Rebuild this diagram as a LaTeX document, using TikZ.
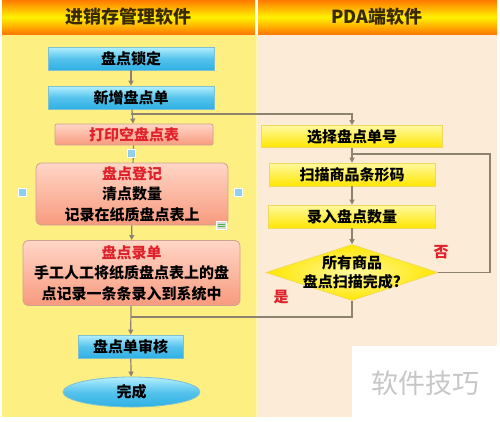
\documentclass[tikz,border=0pt]{standalone}
\usepackage{fontspec}
\newfontfamily\cjk{Noto Sans CJK SC}
\usetikzlibrary{shapes.geometric,arrows.meta}
\definecolor{leftbg}{HTML}{FDEF82}
\definecolor{rightbg}{HTML}{FCEBD6}
\definecolor{hdrorange}{HTML}{FF7A00}
\definecolor{hdryellow}{HTML}{FFF200}
\definecolor{linec}{HTML}{8E8270}
\definecolor{bluetop}{HTML}{B4F0FF}
\definecolor{bluebot}{HTML}{2EB0E4}
\definecolor{blueedge}{HTML}{7FC0D0}
\definecolor{pinktop}{HTML}{FFD6C6}
\definecolor{pinkbot}{HTML}{F89A7E}
\definecolor{pinkedge}{HTML}{D0A090}
\definecolor{ylwtop}{HTML}{FFF9A0}
\definecolor{ylwbot}{HTML}{FFE600}
\definecolor{ylwedge}{HTML}{EED860}
\definecolor{redtxt}{HTML}{E0202A}
\definecolor{hdrtxt}{HTML}{3A2800}
\definecolor{handlec}{HTML}{8FD0EE}
\begin{document}
\begin{tikzpicture}[x=1pt,y=-1pt,
  txt/.style={font=\cjk\bfseries\fontsize{15}{20.5}\selectfont},
  bluebox/.style={txt, draw=blueedge, line width=0.8pt, top color=bluetop, bottom color=bluebot, middle color=bluebot!70!bluetop, minimum height=23pt, inner sep=0pt},
  pinkbox/.style={txt, draw=pinkedge, line width=0.8pt, top color=pinktop, bottom color=pinkbot, rounded corners=5pt, inner sep=0pt, align=center},
  ylwbox/.style={txt, draw=ylwedge, line width=0.6pt, top color=ylwtop, bottom color=ylwbot, minimum height=22pt, inner sep=0pt},
  conn/.style={draw=linec, line width=1.2pt, -{Triangle[length=5pt,width=5pt]}},
  plain/.style={draw=linec, line width=1.2pt},
  lbl/.style={txt, text=redtxt},
  hdr/.style={font=\cjk\bfseries\fontsize{18}{20}\selectfont, text=hdrtxt},
  handle/.style={fill=handlec, draw=white, line width=0.8pt}
]
\useasboundingbox (0,0) rectangle (500,421);
\fill[white] (0,0) rectangle (500,421);
% columns
\fill[leftbg] (2,35) rectangle (256,417);
\fill[rightbg] (258,35) rectangle (497,417);
\fill[leftbg!60!white] (256,35) rectangle (258,417);
\shade[top color=hdrorange, bottom color=hdrorange, middle color=hdryellow] (2,0) rectangle (255,34);
\shade[top color=hdrorange, bottom color=hdrorange, middle color=hdryellow] (258,0) rectangle (497,34);
\node[hdr] (h1) at (128,17) {进销存管理软件};
\node[hdr] (h2) at (377,17) {PDA端软件};

% left column nodes
\node[bluebox, minimum width=166pt] (n1) at (131,58.5) {盘点锁定};
\node[bluebox, minimum width=166pt] (n2) at (131,97.5) {新增盘点单};
\node[pinkbox, minimum width=158pt, minimum height=21pt, rounded corners=2pt, text=redtxt] (n3) at (134,134.5) {打印空盘点表};
\node[pinkbox, minimum width=192pt, minimum height=62pt] (n4) at (132,194) {\textcolor{redtxt}{盘点登记}\\清点数量\\记录在纸质盘点表上};
\node[pinkbox, minimum width=217pt, minimum height=65pt] (n5) at (131.5,273) {\textcolor{redtxt}{盘点录单}\\手工人工将纸质盘点表上的盘\\点记录一条条录入到系统中};
\node[bluebox, minimum width=105pt] (n6) at (130.5,346.5) {盘点单审核};
\node[txt, ellipse, draw=blueedge, line width=0.8pt, top color=bluetop, bottom color=bluebot, middle color=bluebot!70!bluetop, minimum width=137pt, minimum height=30pt, inner sep=0pt] (n7) at (131.5,392) {完成};

% right column nodes
\node[ylwbox, minimum width=181pt] (r1) at (352,136.5) {选择盘点单号};
\node[ylwbox, minimum width=166pt, minimum height=23pt] (r2) at (352,174.5) {扫描商品条形码};
\node[ylwbox, minimum width=167pt, minimum height=23pt] (r3) at (352,216.5) {录入盘点数量};
\node[diamond, draw=ylwedge, line width=0.6pt, inner color=ylwtop, outer color=ylwbot, minimum width=172pt, minimum height=56pt, inner sep=0pt] (d) at (352,272.5) {};
\node[txt, align=center, font=\cjk\bfseries\fontsize{15}{19.5}\selectfont] (dt) at (d) {所有商品\\盘点扫描完成?};

% connectors
\coordinate (j1) at (131,114);
\coordinate (k1) at (352,114);
\coordinate (j2) at (131,317);
\coordinate (k2) at (352,317);
\coordinate (l1) at (490,272.5);
\coordinate (l2) at (490,154);
\coordinate (l3) at (352,154);
\draw[conn] (n1) -- (n2);
\draw[conn] (n2) -- (n3);
\draw[conn] (j1) -- (k1) -- (r1.north);
\draw[plain] (n3) -- (n4);
\draw[conn] (n4) -- (n5);
\draw[conn] (n5) -- (n6);
\draw[conn] (n6) -- (n7);
\draw[conn] (r1) -- (r2);
\draw[conn] (r2) -- (r3);
\draw[conn] (r3) -- (d.north);
\draw[plain] (d.south) -- (k2) -- (j2);
\draw[plain] (d.east) -- (l1) -- (l2) -- (l3);
\node[lbl] (yes) at (281,297) {是};
\node[lbl] (no) at (441,252) {否};

% selection handles
\fill[handle] (127,149) rectangle (135,157);
\fill[handle] (18,188) rectangle (26,196);
\fill[handle] (234,188) rectangle (242,196);
\fill[gray!30, draw=white] (216,221) rectangle (226,229);
\draw[green!40!gray, line width=0.6pt] (217.5,224) -- (224.5,224) (217.5,226.5) -- (224.5,226.5);

% watermark
\fill[white] (352,346) rectangle (500,421);
\node[font=\cjk\fontsize{27}{30}\selectfont, text=black!22] (wm) at (425,383) {软件技巧};
\end{tikzpicture}
\end{document}
